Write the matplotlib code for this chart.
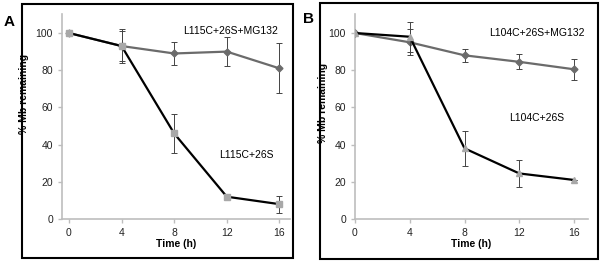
import matplotlib
matplotlib.use('Agg')
import matplotlib.pyplot as plt
from matplotlib.patches import Rectangle

plt.rcParams['font.family'] = ['Liberation Sans', 'DejaVu Sans']

# ---- data ----
time_h = [0, 4, 8, 12, 16]

# panel A
a_mg132 = [100, 93, 89, 90, 81]
a_mg132_err = [0, 8, 6, 8, 13.5]
a_26s = [100, 93, 46, 12, 8]
a_26s_err = [0, 9, 10.5, 0, 4.5]

# panel B
b_mg132 = [100, 95, 88, 84.5, 80.5]
b_mg132_err = [0, 7, 3.5, 4, 5.5]
b_26s = [100, 98, 38, 24.5, 21]
b_26s_err = [0, 8, 9.5, 7.5, 0]

yticks = [0, 20, 40, 60, 80, 100]

fig = plt.figure(figsize=(6.03, 2.62), dpi=100)

AX_GRAY = '#bdbdbd'
LINE_GRAY = '#6b6b6b'
MARK_GRAY = '#a8a8a8'


def setup(ax, xlim, ylab_x, ylab_y):
    ax.set_xlim(*xlim)
    ax.set_ylim(0, 110)
    ax.set_xticks(time_h)
    ax.set_yticks(yticks)
    for s in ['top', 'right']:
        ax.spines[s].set_visible(False)
    for s in ['left', 'bottom']:
        ax.spines[s].set_color(AX_GRAY)
        ax.spines[s].set_linewidth(1.2)
    ax.tick_params(axis='both', colors=AX_GRAY, labelcolor='#222222',
                   labelsize=7.5, length=3, width=1)
    ax.set_xlabel('Time (h)', fontsize=7.5, fontweight='bold', labelpad=1)
    ax.set_ylabel('% Mb remaining', fontsize=7.5, fontweight='bold')
    ax.yaxis.set_label_coords(ylab_x, ylab_y)


# ---- panel A ----
axA = fig.add_axes([0.1028, 0.164, 0.378, 0.781])
setup(axA, (-0.53, 16.8), -33 / 228, 0.61)
axA.errorbar(time_h, a_mg132, yerr=a_mg132_err, color=LINE_GRAY, lw=1.6,
             marker='D', ms=3.5, mfc=LINE_GRAY, mec=LINE_GRAY,
             ecolor='#444444', elinewidth=0.7, capsize=2, capthick=0.7, zorder=3)
axA.errorbar(time_h, a_26s, yerr=a_26s_err, color='black', lw=1.6,
             marker='s', ms=5, mfc=MARK_GRAY, mec=MARK_GRAY,
             ecolor='#444444', elinewidth=0.7, capsize=2, capthick=0.7, zorder=4)
axA.text(12.3, 101, 'L115C+26S+MG132', fontsize=7.5, ha='center', va='center')
axA.text(13.5, 34.4, 'L115C+26S', fontsize=7.5, ha='center', va='center')

# ---- panel B ----
axB = fig.add_axes([0.5887, 0.164, 0.386, 0.781])
setup(axB, (0, 17), -27 / 233, 0.566)
axB.errorbar(time_h, b_mg132, yerr=b_mg132_err, color=LINE_GRAY, lw=1.6,
             marker='D', ms=3.5, mfc=LINE_GRAY, mec=LINE_GRAY,
             ecolor='#444444', elinewidth=0.7, capsize=2, capthick=0.7, zorder=3)
axB.errorbar(time_h, b_26s, yerr=b_26s_err, color='black', lw=1.6,
             marker='^', ms=5, mfc=MARK_GRAY, mec=MARK_GRAY,
             ecolor='#444444', elinewidth=0.7, capsize=2, capthick=0.7, zorder=4)
axB.text(13.3, 100, 'L104C+26S+MG132', fontsize=7.5, ha='center', va='center')
axB.text(13.3, 54.3, 'L104C+26S', fontsize=7.5, ha='center', va='center')

# ---- outer boxes and panel letters ----
for (x0, y0, x1, y1) in [(22, 4, 293, 258), (320, 3, 598, 259)]:
    fig.patches.append(Rectangle((x0 / 603, 1 - y1 / 262), (x1 - x0) / 603,
                                 (y1 - y0) / 262, transform=fig.transFigure,
                                 fill=False, edgecolor='black', lw=1.5))
fig.text(9.5 / 603, 1 - 22.5 / 262, 'A', fontsize=11, fontweight='bold',
         ha='center', va='center')
fig.text(309 / 603, 1 - 19 / 262, 'B', fontsize=11, fontweight='bold',
         ha='center', va='center')

fig.savefig('out.png', dpi=100)
